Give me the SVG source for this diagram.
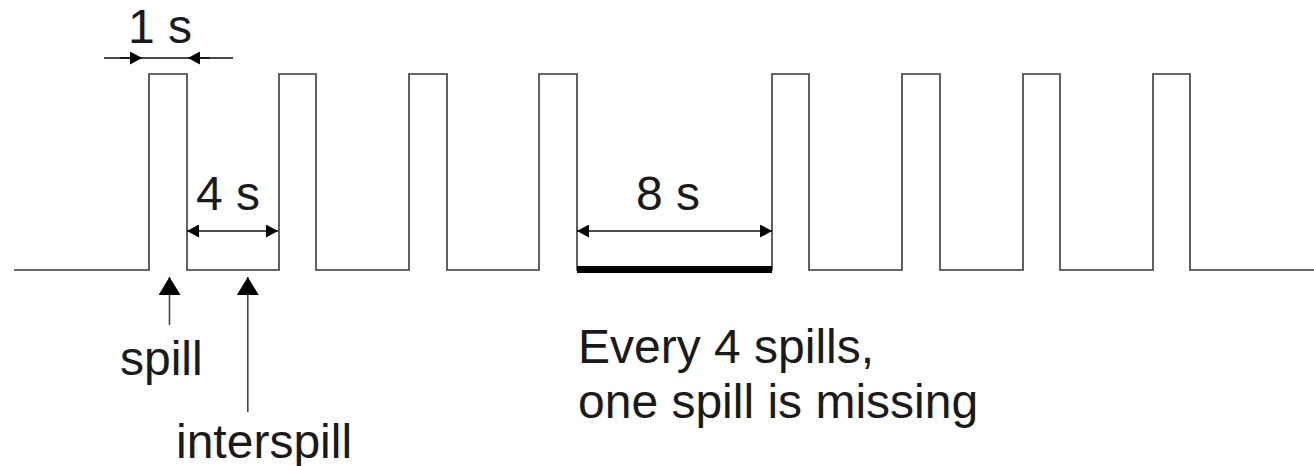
<svg xmlns="http://www.w3.org/2000/svg" width="1314" height="466" viewBox="0 0 1314 466">
<style>
.sig{fill:none;stroke:#3a3a3a;stroke-width:1.6}
.dim{stroke:#111;stroke-width:1.6;fill:none}
.lead{stroke:#444;stroke-width:1.6;fill:none}
.t{font-family:"Liberation Sans",Arial,sans-serif;font-size:48px;fill:#1a1a1a}
</style>
<defs>
<marker id="ah" markerUnits="userSpaceOnUse" markerWidth="12" markerHeight="13" refX="12" refY="6.5" orient="auto-start-reverse">
<path d="M0,0 L12,6.5 L0,13 z" fill="#000"/>
</marker>
<marker id="up" markerUnits="userSpaceOnUse" markerWidth="18" markerHeight="22" refX="18" refY="11" orient="auto">
<path d="M0,0 L18,11 L0,22 z" fill="#000"/>
</marker>
</defs>
<g id="signal">
<path class="sig" d="M14,270 H149 V74 H187 V270 H279 V74 H316 V270 H409 V74 H447 V270 H539 V74 H577 V270 H772 V74 H809 V270 H902 V74 H940 V270 H1023 V74 H1060 V270 H1153 V74 H1190 V270 H1314"/>
<line x1="577" y1="269.5" x2="772" y2="269.5" stroke="#000" stroke-width="7"/>
</g>
<g id="connectors">
<line class="dim" x1="104" y1="58" x2="233" y2="58"/>
<line class="dim" x1="120" y1="58" x2="142" y2="58" marker-end="url(#ah)"/>
<line class="dim" x1="210" y1="58" x2="188" y2="58" marker-end="url(#ah)"/>
<line class="dim" x1="187" y1="231" x2="278" y2="231" marker-start="url(#ah)" marker-end="url(#ah)"/>
<line class="dim" x1="577" y1="231" x2="772" y2="231" marker-start="url(#ah)" marker-end="url(#ah)"/>
<line class="lead" x1="169.5" y1="325" x2="169.5" y2="277" marker-end="url(#up)"/>
<line class="lead" x1="247.8" y1="412" x2="247.8" y2="277" marker-end="url(#up)"/>
</g>
<g id="label-1s"><text class="t" x="128" y="43">1 s</text></g>
<g id="label-4s"><text class="t" x="196" y="210">4 s</text></g>
<g id="label-8s"><text class="t" x="636" y="210">8 s</text></g>
<g id="label-spill"><text class="t" x="120" y="375">spill</text></g>
<g id="label-interspill"><text class="t" x="176" y="458">interspill</text></g>
<g id="label-note">
<text class="t" x="578" y="363">Every 4 spills,</text>
<text class="t" x="578" y="418">one spill is missing</text>
</g>
</svg>
